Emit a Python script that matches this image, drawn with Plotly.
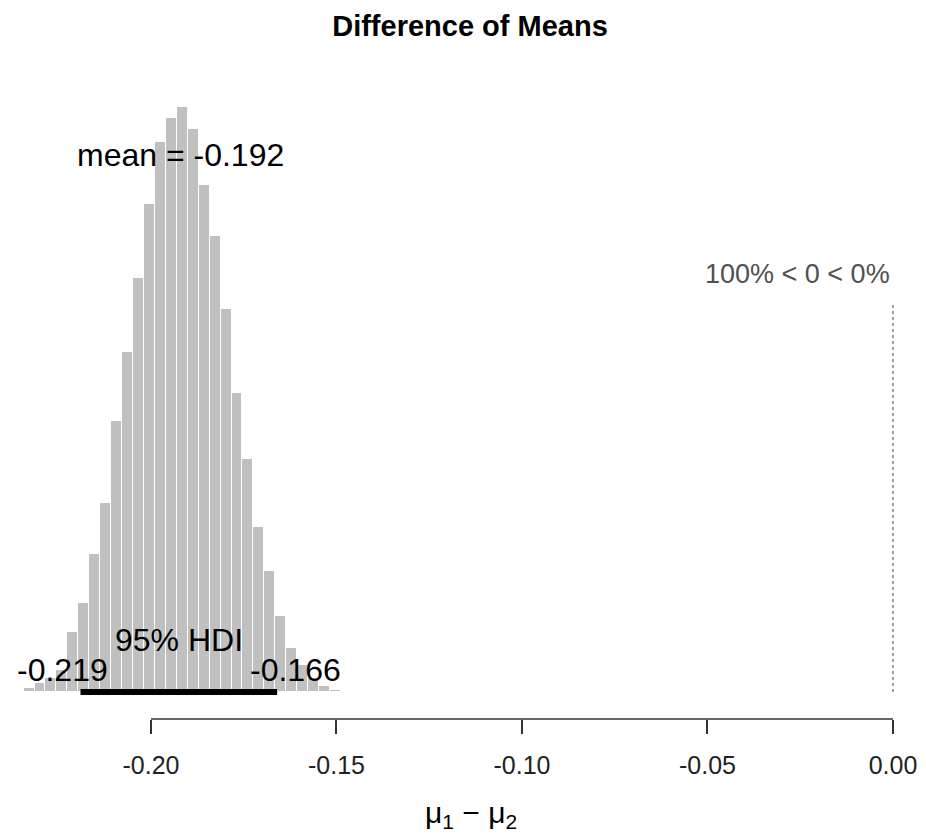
import plotly.graph_objects as go

# ---- data ----
bin_start = -0.2373
bin_width = 0.00295
counts = [22, 60, 135, 210, 330, 900, 1335, 2070, 2835, 4065,
          5100, 6210, 7320, 8250, 8610, 8775, 8445, 7605, 6840, 5745,
          4485, 3495, 2475, 1815, 1140, 660, 405, 210, 90, 30]
post_mean = -0.192
hdi_low = -0.219
hdi_high = -0.166
comp_val = 0.0
pct_text = "100% < 0 < 0%"
tick_vals = [-0.20, -0.15, -0.10, -0.05, 0.00]
tick_text = ["-0.20", "-0.15", "-0.10", "-0.05", "0.00"]

centers = [bin_start + bin_width * (i + 0.5) for i in range(len(counts))]

FONT = "Liberation Sans, Arial, sans-serif"

fig = go.Figure()
fig.add_trace(go.Bar(
    x=centers, y=counts, width=[bin_width] * len(counts),
    marker=dict(color="#C0C0C0", line=dict(color="white", width=1)),
    hoverinfo="skip", showlegend=False))

# HDI bar
fig.add_trace(go.Scatter(
    x=[hdi_low, hdi_high], y=[0, 0], mode="lines",
    line=dict(color="black", width=6), hoverinfo="skip", showlegend=False))

# comparison value dotted line
fig.add_trace(go.Scatter(
    x=[comp_val, comp_val], y=[0, 5850], mode="lines",
    line=dict(color="#444444", width=1, dash="dot"),
    hoverinfo="skip", showlegend=False))

ann = [
    dict(x=post_mean, y=8055, text=f"mean = {post_mean:.3f}", showarrow=False,
         xanchor="center", yanchor="middle", font=dict(size=32, color="black", family=FONT)),
    dict(x=(hdi_low + hdi_high) / 2, y=780, text="95% HDI", showarrow=False,
         xanchor="center", yanchor="middle", font=dict(size=32, color="black", family=FONT)),
    dict(x=hdi_low, y=330, text=f"{hdi_low:.3f}", showarrow=False, xshift=-18,
         xanchor="center", yanchor="middle", font=dict(size=32, color="black", family=FONT)),
    dict(x=hdi_high, y=330, text=f"{hdi_high:.3f}", showarrow=False, xshift=18,
         xanchor="center", yanchor="middle", font=dict(size=32, color="black", family=FONT)),
    dict(x=comp_val, y=6270, text=pct_text, showarrow=False, xshift=-1,
         xanchor="right", yanchor="middle", font=dict(size=27, color="#505050", family=FONT)),
    dict(x=471 / 926, xref="paper", y=-0.1526, yref="paper",
         text="μ<sub>1</sub> − μ<sub>2</sub>", showarrow=False,
         xanchor="center", yanchor="middle", font=dict(size=30, color="black", family=FONT)),
]

fig.update_layout(
    width=926, height=834,
    margin=dict(l=0, r=0, t=90, b=115),
    paper_bgcolor="white", plot_bgcolor="white",
    bargap=0,
    title=dict(text="<b>Difference of Means</b>", x=470 / 926, xanchor="center",
               y=1 - 26 / 834, yanchor="middle",
               font=dict(size=29, color="black", family=FONT)),
    annotations=ann,
    shapes=[dict(type="line", xref="x", yref="paper", x0=tick_vals[0], x1=tick_vals[-1],
                 y0=0, y1=0, line=dict(color="#333333", width=1.5))],
    xaxis=dict(range=[-0.2407, 0.0089], showgrid=False, zeroline=False, showline=False,
               tickvals=tick_vals, ticktext=tick_text, ticks="outside", ticklen=14,
               tickwidth=1.5, tickcolor="#333333", ticklabelstandoff=10,
               tickfont=dict(size=25, color="#222222", family=FONT)),
    yaxis=dict(range=[-405, 9030], showgrid=False, zeroline=False, showline=False,
               showticklabels=False, ticks=""),
)

fig.write_html("out.html")
